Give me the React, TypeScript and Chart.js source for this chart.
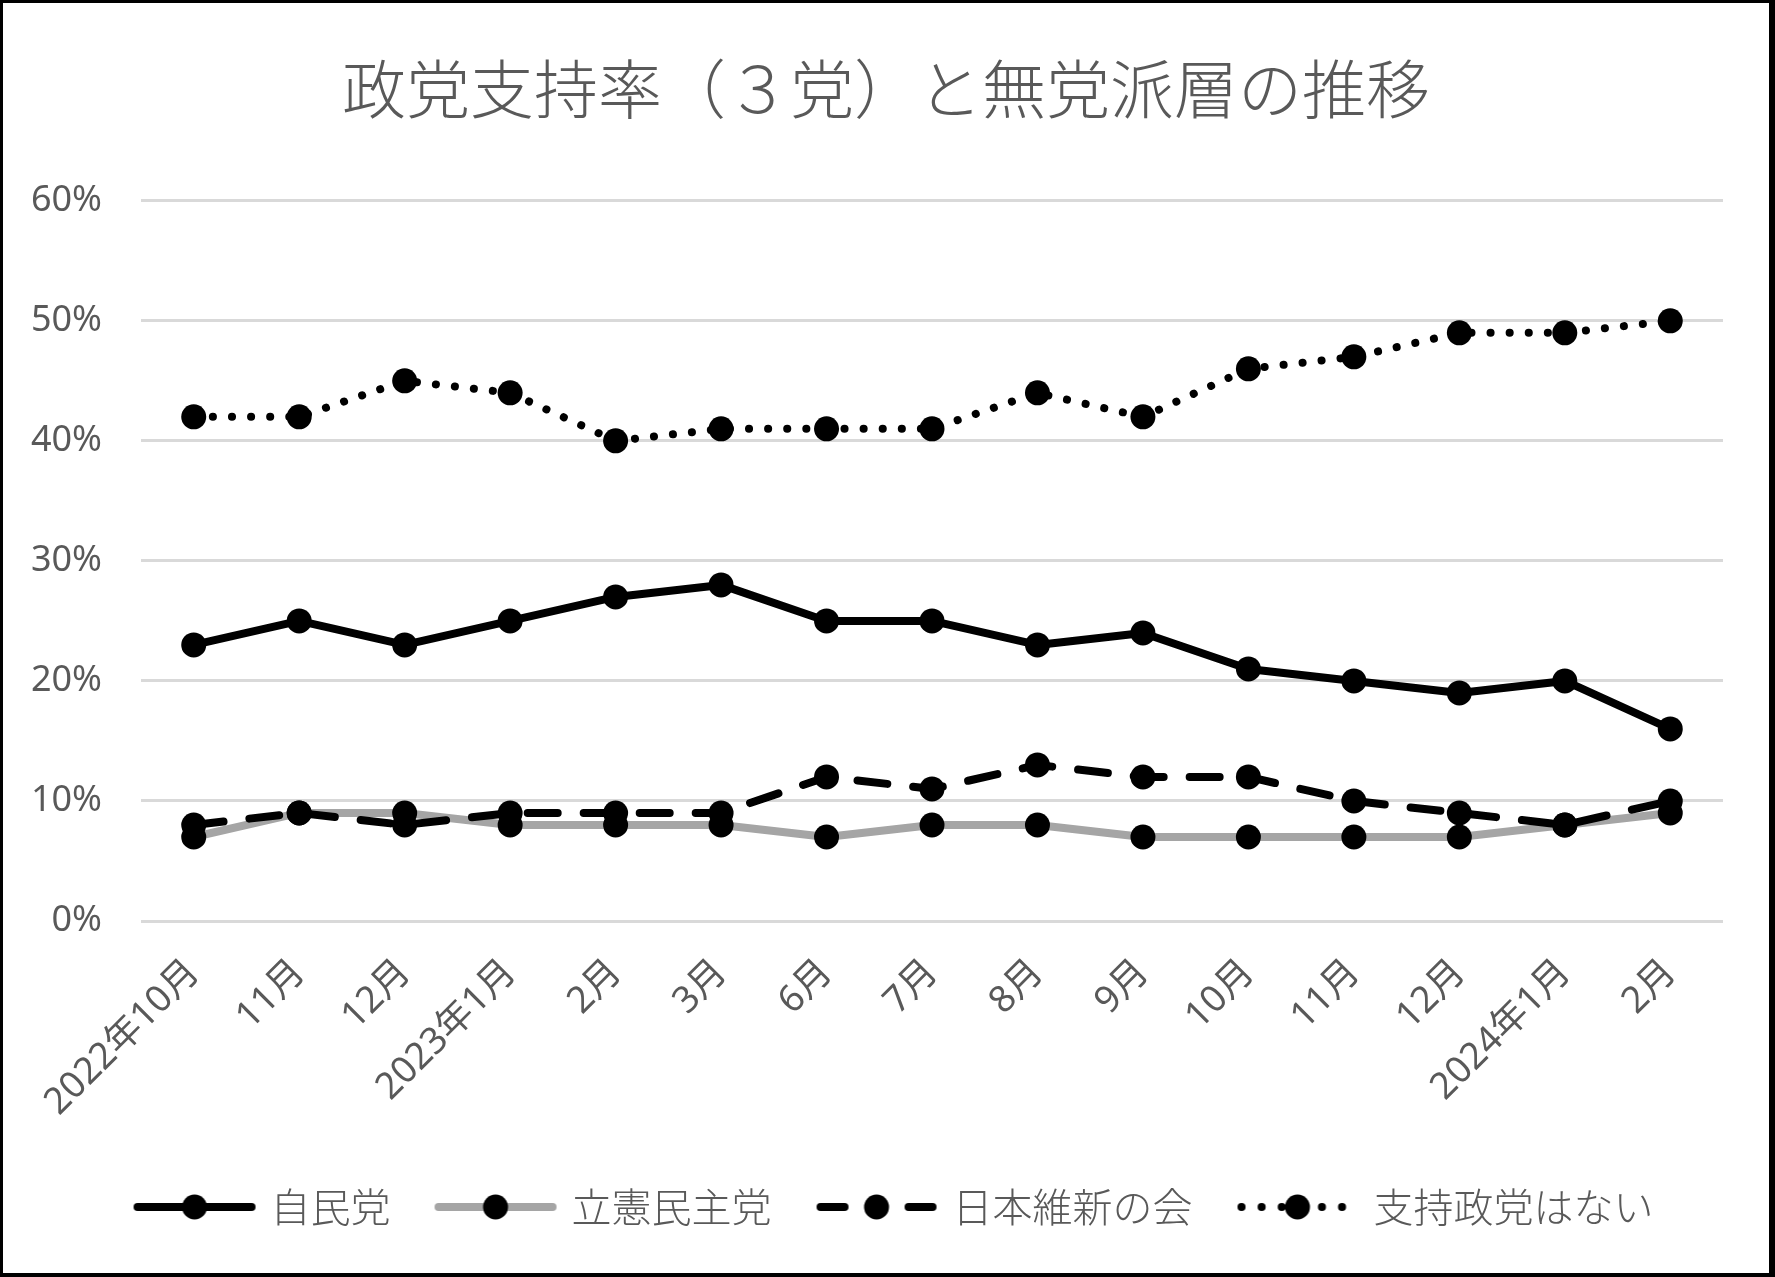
import React, { useEffect, useRef } from "react";
import { Chart, registerables } from "chart.js";

Chart.register(...registerables);

const categories = [
  "2022年10月", "11月", "12月", "2023年1月", "2月", "3月", "6月", "7月",
  "8月", "9月", "10月", "11月", "12月", "2024年1月", "2月",
];
const seriesNames = ["自民党", "立憲民主党", "日本維新の会", "支持政党はない"];
const ldp = [23, 25, 23, 25, 27, 28, 25, 25, 23, 24, 21, 20, 19, 20, 16];
const cdp = [7, 9, 9, 8, 8, 8, 7, 8, 8, 7, 7, 7, 7, 8, 9];
const ishin = [8, 9, 8, 9, 9, 9, 12, 11, 13, 12, 12, 10, 9, 8, 10];
const noParty = [42, 42, 45, 44, 40, 41, 41, 41, 44, 42, 46, 47, 49, 49, 50];
const yTicks = [0, 10, 20, 30, 40, 50, 60];
const titleText = "政党支持率（３党）と無党派層の推移";

const TEXT = "#595959";
const FONT = '"Noto Sans", "Noto Sans CJK JP", sans-serif';
const CJK = '"Noto Sans CJK JP", "Noto Sans", sans-serif';

type Style = { color: string; dash: number[] };
const styles: Style[] = [
  { color: "#000000", dash: [] },
  { color: "#a5a5a5", dash: [] },
  { color: "#000000", dash: [30, 26] },
  { color: "#000000", dash: [0.1, 19] },
];

function legendIcon(s: Style): HTMLCanvasElement {
  const c = document.createElement("canvas");
  c.width = 124;
  c.height = 30;
  const ctx = c.getContext("2d")!;
  ctx.strokeStyle = s.color;
  ctx.lineWidth = 8;
  ctx.lineCap = "round";
  ctx.beginPath();
  if (s.dash.length && s.dash[0] >= 1) {
    ctx.moveTo(6, 15);
    ctx.lineTo(30, 15);
    ctx.moveTo(94, 15);
    ctx.lineTo(118, 15);
  } else if (s.dash.length) {
    ctx.setLineDash([0.1, 20]);
    ctx.moveTo(6, 15);
    ctx.lineTo(122, 15);
  } else {
    ctx.moveTo(5, 15);
    ctx.lineTo(119, 15);
  }
  ctx.stroke();
  ctx.setLineDash([]);
  ctx.fillStyle = "#000";
  ctx.beginPath();
  ctx.arc(62, 15, 12.5, 0, Math.PI * 2);
  ctx.fill();
  return c;
}

const legendShift = {
  id: "legendShift",
  afterLayout(chart: any) {
    if (chart.legend) {
      chart.legend.left += 10;
      chart.legend.right += 10;
    }
  },
};

export default function App() {
  const ref = useRef<HTMLCanvasElement | null>(null);

  useEffect(() => {
    if (!ref.current) return;
    const data = [ldp, cdp, ishin, noParty];
    const icons = styles.map(legendIcon);
    const chart = new Chart(ref.current, {
      type: "line",
      plugins: [legendShift],
      data: {
        labels: categories,
        datasets: data.map((d, i) => ({
          label: seriesNames[i],
          data: d,
          borderColor: styles[i].color,
          borderWidth: 8,
          borderDash: styles[i].dash,
          borderCapStyle: "round" as const,
          borderJoinStyle: "round" as const,
          tension: 0,
          pointRadius: 12.5,
          pointHoverRadius: 12.5,
          pointBackgroundColor: "#000",
          pointBorderWidth: 0,
          pointStyle: "circle" as const,
          order: 4 - i,
        })),
      },
      options: {
        animation: false,
        responsive: false,
        maintainAspectRatio: false,
        layout: { padding: { left: 0, right: 0, top: 0, bottom: 36 } },
        plugins: {
          tooltip: { enabled: false },
          title: {
            display: true,
            text: titleText,
            color: TEXT,
            font: { family: CJK, size: 64, weight: "300" as any, lineHeight: 1.2 },
            padding: { top: 47, bottom: 74 },
          },
          legend: {
            display: true,
            position: "bottom",
            labels: {
              usePointStyle: true,
              pointStyleWidth: 112,
              padding: 49,
              color: TEXT,
              font: { family: CJK, size: 40, weight: "300" as any },
              sort: (a: any, b: any) => a.datasetIndex - b.datasetIndex,
              generateLabels: (ch: any) => {
                const items = Chart.defaults.plugins.legend.labels.generateLabels(ch);
                return items.map((it: any) => ({ ...it, pointStyle: icons[it.datasetIndex] }));
              },
            },
          },
        },
        scales: {
          x: {
            offset: true,
            grid: { display: false },
            border: { display: false },
            ticks: {
              color: TEXT,
              font: { family: FONT, size: 37 },
              minRotation: 45,
              maxRotation: 45,
              autoSkip: false,
              padding: 22,
            },
            afterFit: (s: any) => {
              s.height = 217;
            },
          },
          y: {
            min: 0,
            max: 60,
            afterBuildTicks: (s: any) => {
              s.ticks = yTicks.map((v) => ({ value: v }));
            },
            grid: { color: "#d9d9d9", lineWidth: 3, drawTicks: false },
            border: { display: false },
            ticks: {
              color: TEXT,
              font: { family: FONT, size: 36 },
              padding: 39,
              callback: (v: any) => v + "%",
            },
            afterFit: (s: any) => {
              s.width = 138;
            },
          },
          yRight: {
            position: "right",
            min: 0,
            max: 60,
            grid: { display: false, drawTicks: false },
            border: { display: false },
            ticks: { display: false },
            afterFit: (s: any) => {
              s.width = 46;
            },
          },
        },
      },
    });
    return () => chart.destroy();
  }, []);

  return (
    <div
      style={{
        position: "fixed",
        left: 0,
        top: 0,
        width: 1775,
        height: 1277,
        boxSizing: "border-box",
        borderStyle: "solid",
        borderColor: "#000",
        borderWidth: "3px 6px 4px 3px",
        background: "#fff",
      }}
    >
      <canvas ref={ref} width={1766} height={1270} style={{ display: "block" }} />
    </div>
  );
}
